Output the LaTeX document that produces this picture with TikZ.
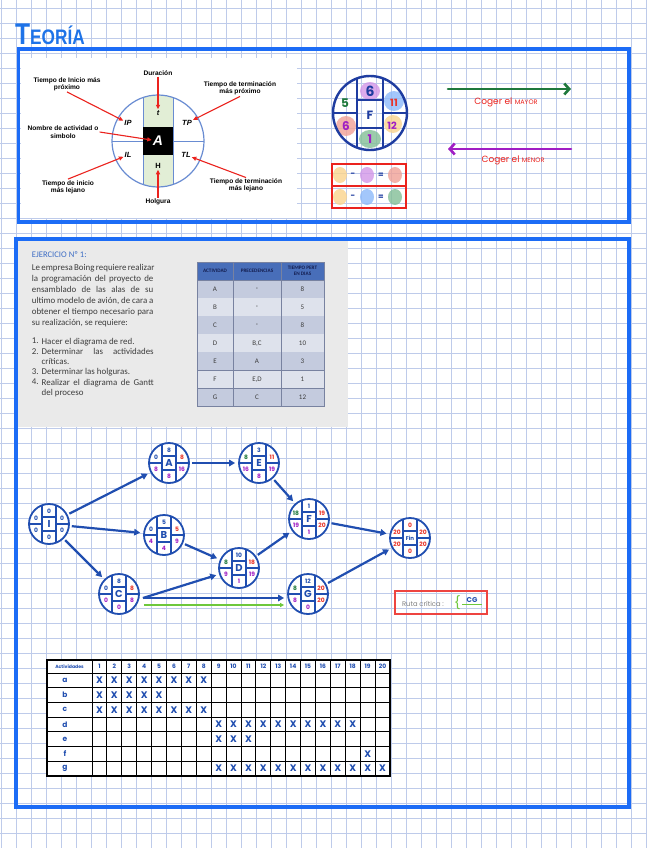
\documentclass[tikz,border=0pt]{standalone}
\usepackage{fontspec}
\setmainfont{Liberation Sans}
\newfontfamily\calfont{Carlito}
\newfontfamily\handfont{Poppins}
\usepackage{graphicx}
\usepackage{xcolor}
\usetikzlibrary{positioning, arrows.meta, calc}

\definecolor{gridblue}{RGB}{190,203,234}
\definecolor{boxblue}{RGB}{28,108,246}
\definecolor{titleblue}{RGB}{30,115,232}
\definecolor{circblue}{RGB}{105,140,210}
\definecolor{stripgreen}{RGB}{226,238,214}
\definecolor{arrred}{RGB}{235,35,30}
\definecolor{netblue}{RGB}{32,78,176}
\definecolor{fdark}{RGB}{30,60,160}
\definecolor{netgreen}{RGB}{30,120,60}
\definecolor{netred}{RGB}{232,52,40}
\definecolor{netpurple}{RGB}{160,30,196}
\definecolor{ejblue}{RGB}{60,108,196}
\definecolor{txtgray}{RGB}{60,60,60}
\definecolor{exgray}{RGB}{234,234,234}
\definecolor{headblue}{RGB}{72,110,185}
\definecolor{headtxt}{RGB}{20,30,80}
\definecolor{rowdark}{RGB}{196,203,222}
\definecolor{rowlight}{RGB}{222,226,236}
\definecolor{tabline}{RGB}{120,130,160}
\definecolor{critgreen}{RGB}{110,200,60}
\definecolor{blobpurple}{RGB}{210,150,232}
\definecolor{blobblue}{RGB}{140,185,250}
\definecolor{blobsalmon}{RGB}{240,160,150}
\definecolor{bloborange}{RGB}{250,212,140}
\definecolor{blobgreen}{RGB}{130,190,150}

\newcommand\cbl{\color{netblue}}
\newcommand\cgn{\color{netgreen}}
\newcommand\crd{\color{netred}}
\newcommand\cpr{\color{netpurple}}
% linea justificada a lo ancho del enunciado
\newcommand\jline[2]{\makebox[#1][s]{#2}}

\tikzset{
  gridline/.style={draw=gridblue, line width=0.7pt},
  bluebox/.style={draw=boxblue, line width=3.5pt},
  thlabel/.style={font=\bfseries\fontsize{6.6}{7.3}\selectfont, align=center, inner sep=1pt},
  thcell/.style={font=\bfseries\itshape\fontsize{7.5}{8}\selectfont, inner sep=1pt},
  tharrow/.style={draw=arrred, line width=1.1pt, -{Triangle[length=4.5pt,width=4pt]}},
  fline/.style={draw=fdark, line width=1.8pt},
  fval/.style={font=\handfont\bfseries\fontsize{12}{12}\selectfont, inner sep=0},
  blob/.style={opacity=0.8},
  cogtxt/.style={font=\handfont\fontsize{9}{9}\selectfont, text=arrred, inner sep=0},
  extext/.style={font=\calfont\fontsize{8.9}{10.9}\selectfont, text=txtgray, inner sep=0, align=left},
  tabtxt/.style={font=\calfont\fontsize{7}{7}\selectfont, text=txtgray, inner sep=0},
  tabhead/.style={font=\calfont\bfseries\fontsize{5.2}{6}\selectfont, text=headtxt, align=center, inner sep=0},
  netnode/.style={circle, draw=netblue, line width=1.8pt, fill=white, minimum size=40pt, inner sep=0},
  netline/.style={draw=netblue, line width=1.2pt},
  netval/.style={font=\handfont\bfseries\fontsize{6}{6}\selectfont, inner sep=0},
  netletter/.style={font=\handfont\bfseries\fontsize{10}{10}\selectfont, text=netblue, inner sep=0},
  netarrow/.style={draw=netblue, line width=2.2pt, -{Triangle[length=6pt,width=6.5pt]}, shorten >=3pt, shorten <=2pt},
  critline/.style={draw=critgreen, line width=1.2pt, -{Triangle[length=4pt,width=4pt]}},
  gantline/.style={draw=black, line width=0.9pt},
  gantnum/.style={font=\handfont\bfseries\fontsize{6}{6}\selectfont, text=netblue, inner sep=0},
  gantx/.style={font=\handfont\bfseries\fontsize{9.5}{9.5}\selectfont, text=netblue, inner sep=0}
}

\begin{document}
\begin{tikzpicture}[x=1pt, y=-1pt, font=\fontsize{7}{8}\selectfont]
  \useasboundingbox (0,0) rectangle (646,848);
  \fill[white] (0,0) rectangle (646,848);
  % cuadricula de fondo
  \foreach \gx in {1,16,...,646} \draw[gridline] (\gx,0) -- (\gx,848);
  \foreach \gy in {8,23,...,848} \draw[gridline] (0,\gy) -- (646,\gy);

  \node[anchor=south west, inner sep=0, text=titleblue, font=\bfseries] (teoria) at (15,45)
    {\scalebox{0.82}[1]{\fontsize{30}{30}\selectfont T\fontsize{21}{21}\selectfont EORÍA}};

  \fill[white] (21,58) rectangle (297,218);
  \draw[bluebox] (18.5,49) rectangle (629,222);

  % simbolo de la actividad
  \begin{scope}
    \clip (158,141) circle (46);
    \fill[stripgreen] (143,90) rectangle (173,192);
    \draw[circblue, line width=1pt] (143,90) -- (143,192) (173,90) -- (173,192);
  \end{scope}
  \fill[black] (143,127) rectangle (173,155);
  \draw[circblue, line width=1pt] (112,141) -- (143,141) (173,141) -- (204,141);
  \draw[circblue, line width=1.2pt] (158,141) circle (46);

  \node[thcell] (tcell) at (158,113) {t};
  \node[thcell] (ipcell) at (128,123) {IP};
  \node[thcell] (tpcell) at (187,123) {TP};
  \node[thcell] (ilcell) at (128,155) {IL};
  \node[thcell] (tlcell) at (186,155) {TL};
  \node[thcell, font=\bfseries\fontsize{7.5}{8}\selectfont] (hcell) at (158,166) {H};
  \node[thcell, text=white, font=\bfseries\itshape\fontsize{14}{14}\selectfont] (acell) at (158,141) {A};

  \node[thlabel] (durlbl) at (158,73) {Duración};
  \node[thlabel] (iplbl) at (67,84) {Tiempo de Inicio más\\próximo};
  \node[thlabel] (tplbl) at (240,88.5) {Tiempo de terminación\\más próximo};
  \node[thlabel] (nomlbl) at (63,132) {Nombre de actividad o\\simbolo};
  \node[thlabel] (illbl) at (68,187) {Tiempo de inicio\\más lejano};
  \node[thlabel] (tllbl) at (246,185.5) {Tiempo de terminación\\más lejano};
  \node[thlabel] (hollbl) at (158,202) {Holgura};

  \draw[tharrow] (durlbl) -- (tcell);
  \draw[tharrow] (iplbl.south) -- (ipcell);
  \draw[tharrow] (tplbl.south) -- (tpcell);
  \draw[tharrow] (nomlbl.east) -- (acell);
  \draw[tharrow] (illbl.north) -- (ilcell);
  \draw[tharrow] (tllbl.north) -- (tlcell);
  \draw[tharrow] (hollbl) -- (hcell);

  % nodo F de ejemplo
  \begin{scope}
    \clip (370,113) circle (37);
    \fill[blobpurple, blob] (370,91) ellipse (10 and 9);
    \fill[blobblue, blob] (394,101) ellipse (10 and 10);
    \fill[blobsalmon, blob] (346,126) ellipse (10 and 10);
    \fill[bloborange, blob] (393,124) ellipse (9 and 9);
    \fill[blobgreen, blob] (370,139) ellipse (11 and 9);
    \draw[fline] (357,75) -- (357,151) (383,75) -- (383,151)
      (357,100) -- (383,100) (357,128) -- (383,128)
      (333,113) -- (357,113) (383,113) -- (407,113);
  \end{scope}
  \draw[fline, line width=2.4pt] (370,113) circle (37);
  \node[fval, text=fdark, font=\handfont\bfseries\fontsize{14}{14}\selectfont] (ftop) at (370,91) {6};
  \node[fval, text=netgreen] (flt) at (345,103) {5};
  \node[fval, text=netred, font=\handfont\bfseries\fontsize{10}{10}\selectfont] (frt) at (394,103) {11};
  \node[fval, text=netpurple] (flb) at (346,126) {6};
  \node[fval, text=netpurple, font=\handfont\bfseries\fontsize{10}{10}\selectfont] (frb) at (392,126) {12};
  \node[fval, text=netpurple] (fbot) at (370,139) {1};
  \node[fval, text=fdark] (fmid) at (370,115) {F};

  \draw[arrred, line width=1.3pt] (332,164) rectangle (406,208) (332,186) -- (406,186);
  \foreach \ly/\lmid/\lres/\lrow in {175/blobpurple/blobsalmon/1, 197/blobblue/blobgreen/2} {
    \fill[bloborange, blob] (340,\ly) ellipse (7 and 8);
    \fill[\lmid, blob] (367,\ly) ellipse (7 and 8);
    \fill[\lres, blob] (395,\ly) ellipse (7 and 8);
    \node[fval, text=fdark, font=\handfont\bfseries\fontsize{8}{8}\selectfont] (menos\lrow) at (353,\ly) {-};
    \node[fval, text=fdark, font=\handfont\bfseries\fontsize{8}{8}\selectfont] (igual\lrow) at (381,\ly) {=};
  }

  \coordinate (maysta) at (448,89);
  \coordinate (mayend) at (571,89);
  \draw[netgreen, line width=2.6pt, line cap=round, -{Straight Barb[length=5pt,width=11pt]}] (maysta) -- (mayend);
  \node[cogtxt] (maytxt) at (506,102.5) {Coger el {\fontsize{6.5}{7}\selectfont MAYOR}};
  \coordinate (mensta) at (571,149);
  \coordinate (menend) at (448,149);
  \draw[netpurple, line width=2.6pt, line cap=round, -{Straight Barb[length=5pt,width=11pt]}] (mensta) -- (menend);
  \node[cogtxt] (mentxt) at (513,160.5) {Coger el {\fontsize{6.5}{7}\selectfont MENOR}};

  % ejercicio
  \fill[exgray] (18,241) rectangle (348,427);
  \draw[bluebox] (16,239) rectangle (629,807);
  \node[anchor=west, inner sep=0, font=\calfont\fontsize{8.6}{8.6}\selectfont, text=ejblue] (ejer) at (31.7,255) {EJERCICIO Nº 1:};
  \node[extext, anchor=north west] (enun) at (31.7,264.5)
    {\jline{121.5pt}{Le empresa Boing requiere realizar}\\
     \jline{121.5pt}{la programación del proyecto de}\\
     \jline{121.5pt}{ensamblado de las alas de su}\\
     \jline{121.5pt}{ultimo modelo de avión, de cara a}\\
     \jline{121.5pt}{obtener el tiempo necesario para}\\
     su realización, se requiere:};
  \foreach \lnum/\ltop/\ltxt in {1/338/{Hacer el diagrama de red.},
      2/348.2/{\jline{112pt}{Determinar las actividades}\\críticas.},
      3/368.6/{Determinar las holguras.},
      4/378.8/{\jline{112pt}{Realizar el diagrama de Gantt}\\del proceso}} {
    \node[extext, anchor=north west, font=\calfont\fontsize{8.9}{10.2}\selectfont] (lnum\lnum) at (31.7,\ltop) {\lnum.};
    \node[extext, anchor=north west, font=\calfont\fontsize{8.9}{10.2}\selectfont] (litem\lnum) at (41.5,\ltop) {\ltxt};
  }

  % tabla de actividades
  \fill[headblue] (197,262) rectangle (324,280);
  \node[tabhead] (hact) at (215,271) {ACTIVIDAD};
  \node[tabhead] (hpre) at (257,271) {PRECEDENCIAS};
  \node[tabhead] (htie) at (302.5,271) {TIEMPO PERT\\EN DIAS};
  \foreach \rw/\tact/\tpre/\tdias/\tcol in {1/A/-/8/rowdark, 2/B/-/5/rowlight, 3/C/-/8/rowdark,
      4/D/{B,C}/10/rowlight, 5/E/A/3/rowdark, 6/F/{E,D}/1/rowlight, 7/G/C/12/rowdark} {
    \fill[\tcol] (197,{280+18.1*(\rw-1)}) rectangle (324,{280+18.1*\rw});
    \node[tabtxt] (tact\rw) at (215,{280+18.1*(\rw-0.5)}) {\tact};
    \node[tabtxt] (tpre\rw) at (257,{280+18.1*(\rw-0.5)}) {\tpre};
    \node[tabtxt] (tdia\rw) at (302.5,{280+18.1*(\rw-0.5)}) {\tdias};
    \draw[tabline, line width=0.8pt] (197,{280+18.1*\rw}) -- (324,{280+18.1*\rw});
  }
  \draw[tabline, line width=0.8pt] (233,262) -- (233,406.7) (281,262) -- (281,406.7) (197,280) -- (324,280);
  \draw[tabline, line width=1pt] (197,262) rectangle (324,406.7);

  % red del proyecto
  \foreach \nname/\nx/\ny/\nlet/\ntop/\nlt/\nrt/\nlb/\nrb/\nbot in {
      I/49/524/I/\cbl 0/\cbl 0/\cbl 0/\cbl 0/\cbl 0/\cbl 0,
      A/169/463/A/\cbl 8/\cbl 0/\crd 8/\cpr 8/\cpr 16/\cpr 8,
      E/259/463/E/\cbl 3/\cgn 8/\crd 11/\cpr 16/\cpr 19/\cpr 8,
      B/164/535/B/\cbl 5/\cbl 0/\crd 5/\cpr 4/\cpr 9/\cpr 4,
      D/239/568/D/\cbl 10/\cgn 8/\crd 18/\cpr 9/\cpr 19/\cpr 1,
      C/119/594/C/\cbl 8/\cbl 0/\crd 8/\cpr 0/\cpr 8/\cpr 0,
      F/309/519/F/\cbl 1/\cgn 18/\crd 19/\cpr 19/\crd 20/\cpr 1,
      G/308/594/G/\cbl 12/\cgn 8/\crd 20/\cpr 8/\crd 20/\cpr 0,
      Fin/410/538/{\fontsize{5.5}{5.5}\selectfont Fin}/\crd 0/\crd 20/\crd 20/\crd 20/\crd 20/\crd 0} {
    \node[netnode] (\nname) at (\nx,\ny) {};
    \draw[netline] ({\nx-7},{\ny-18.7}) -- ({\nx-7},{\ny+18.7})
      ({\nx+7},{\ny-18.7}) -- ({\nx+7},{\ny+18.7})
      ({\nx-7},{\ny-7}) -- ({\nx+7},{\ny-7}) ({\nx-7},{\ny+7}) -- ({\nx+7},{\ny+7})
      ({\nx-20},\ny) -- ({\nx-7},\ny) ({\nx+7},\ny) -- ({\nx+20},\ny);
    \node[netletter] (\nname-let) at (\nx,\ny) {\nlet};
    \node[netval] (\nname-top) at (\nx,{\ny-13}) {\ntop};
    \node[netval] (\nname-lt) at ({\nx-13},{\ny-6}) {\nlt};
    \node[netval] (\nname-rt) at ({\nx+13},{\ny-6}) {\nrt};
    \node[netval] (\nname-lb) at ({\nx-13},{\ny+6}) {\nlb};
    \node[netval] (\nname-rb) at ({\nx+13},{\ny+6}) {\nrb};
    \node[netval] (\nname-bot) at (\nx,{\ny+13}) {\nbot};
  }
  \draw[netarrow] (I) -- (A);
  \draw[netarrow] (I) -- (B);
  \draw[netarrow] (I) -- (C);
  \draw[netarrow] (A) -- (E);
  \draw[netarrow] (B) -- (D);
  \draw[netarrow] (E) -- (F);
  \draw[netarrow] (D) -- (F);
  \draw[netarrow] (F) -- (Fin);
  \draw[netarrow] (G) -- (Fin);
  \coordinate (cout) at ($(C.east)+(3,4)$);
  \coordinate (gin) at ($(G.west)+(0,4)$);
  \draw[netarrow, shorten <=0pt] (cout) -- (D);
  \draw[netarrow, shorten <=0pt] (cout) -- (gin);
  \coordinate (cgo) at ($(C.east)+(4,11)$);
  \coordinate (cgi) at ($(G.west)+(-3,11)$);
  \draw[critline] (cgo) -- (cgi);

  \node[draw=arrred!85, line width=1.2pt, minimum width=92pt, minimum height=23pt] (ruta) at (441,602.5) {};
  \node[inner sep=0, font=\handfont\fontsize{6.8}{7}\selectfont, text=gray] (rutalbl) at (423,604) {Ruta crítica :};
  \node[inner sep=0, font=\fontsize{15}{15}\selectfont, text=critgreen] (rutallave) at (457.5,603) {\{};
  \node[inner sep=0, font=\handfont\bfseries\fontsize{7}{7}\selectfont, text=netblue] (rutacg) at (472,600.5) {CG};
  \draw[critgreen, line width=0.8pt] ([xshift=-4pt, yshift=-1.5pt]rutacg.south west) -- ([xshift=4pt, yshift=-1.5pt]rutacg.south east);

  % diagrama de Gantt
  \fill[white] (47,660) rectangle (390,776);
  \foreach \gd in {0,...,20} \draw[gantline] ({92+14.9*\gd},660) -- ({92+14.9*\gd},776);
  \foreach \rw in {0,...,7} \draw[gantline] (47,{673+14.7*\rw}) -- (390,{673+14.7*\rw});
  \draw[gantline, line width=1.4pt] (47,660) rectangle (390,776);
  \node[gantnum, font=\handfont\bfseries\fontsize{4.6}{5}\selectfont] (acthead) at (69.5,666.5) {Actividades};
  \foreach \gd in {1,...,20}
    \node[gantnum] (dia\gd) at ({92+14.9*(\gd-0.5)},666.5) {\gd};
  \foreach \act/\rw/\gfrom/\gto in {a/1/1/8, b/2/1/5, c/3/1/8, d/4/9/18, e/5/9/11, f/6/19/19, g/7/9/20} {
    \node[gantnum, font=\handfont\bfseries\fontsize{7.5}{7.5}\selectfont] (act\act) at (65,{665.6+14.7*\rw}) {\act};
    \foreach \gd in {\gfrom,...,\gto}
      \node[gantx] (x\act\gd) at ({92+14.9*(\gd-0.5)},{665.6+14.7*\rw}) {X};
  }
\end{tikzpicture}
\end{document}
